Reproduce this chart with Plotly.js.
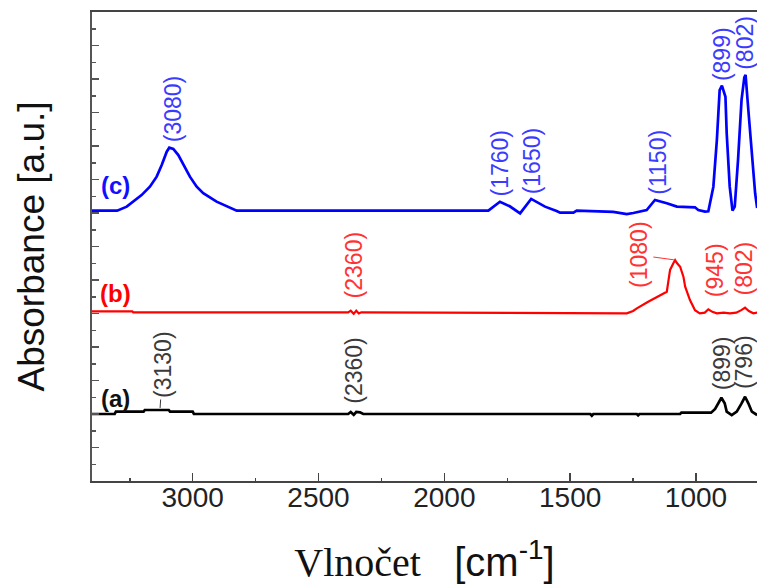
<!DOCTYPE html>
<html><head><meta charset="utf-8">
<script src="https://cdn.plot.ly/plotly-3.0.1.min.js"></script>
<style>html,body{margin:0;padding:0;background:#fff;overflow:hidden}</style>
</head><body><div id="chart" style="width:757px;height:585px"></div>
<script>
// ---- data (wavenumber in cm^-1, absorbance in a.u., curves offset as in the figure) ----
const seriesNames = ['(a)', '(b)', '(c)'];

const aX = [3400, 3310, 3305, 3195, 3190, 3140, 3130, 3095, 3090, 3000, 2995, 2382, 2372, 2360, 2350, 2335, 2322, 1420, 1414, 1408, 1235, 1230, 1225, 1063, 1058, 940, 924, 910, 899, 886, 878, 858, 838, 820, 805, 792, 778, 757];
const aY = [4.0, 4.0, 4.14, 4.14, 4.24, 4.24, 4.24, 4.24, 4.14, 4.14, 4.0, 4.0, 4.12, 3.95, 4.12, 4.1, 4.0, 4.0, 3.9, 4.0, 4.0, 3.92, 4.0, 4.0, 4.08, 4.08, 4.3, 4.7, 4.97, 4.64, 4.14, 3.94, 4.14, 4.6, 5.03, 4.64, 4.14, 3.94];

const bX = [3400, 3240, 3236, 2382, 2372, 2360, 2350, 2340, 2330, 1275, 1250, 1235, 1190, 1143, 1116, 1110, 1103, 1090, 1083, 1075, 1063, 1050, 1043, 1024, 1004, 985, 965, 951, 935, 917, 890, 865, 840, 820, 805, 790, 772, 757];
const bY = [10.13, 10.13, 10.07, 10.07, 10.17, 9.98, 10.17, 10.0, 10.07, 10.01, 10.15, 10.31, 10.7, 11.1, 11.3, 11.9, 12.6, 13.0, 13.19, 13.0, 12.79, 12.2, 11.6, 10.8, 10.2, 10.01, 10.05, 10.25, 10.1, 10.01, 10.05, 10.01, 10.05, 10.2, 10.35, 10.15, 10.01, 10.05];

const cX = [3400, 3300, 3262, 3236, 3203, 3170, 3143, 3123, 3103, 3093, 3077, 3057, 3037, 3011, 2984, 2958, 2905, 2825, 1825, 1779, 1740, 1699, 1655, 1600, 1554, 1540, 1487, 1474, 1329, 1275, 1249, 1196, 1163, 1143, 1116, 1076, 1024, 1004, 991, 964, 951, 931, 917, 906, 897, 883, 878, 866, 855, 846, 833, 819, 808, 803, 792, 778, 765, 757];
const cY = [16.14, 16.14, 16.38, 16.68, 17.07, 17.57, 18.17, 18.87, 19.66, 19.9, 19.82, 19.46, 18.87, 18.17, 17.57, 17.18, 16.68, 16.14, 16.14, 16.67, 16.4, 15.98, 16.84, 16.38, 16.12, 16.02, 16.02, 16.14, 16.07, 15.93, 16.0, 16.18, 16.78, 16.7, 16.58, 16.38, 16.34, 16.34, 16.18, 16.08, 16.1, 17.57, 20.36, 23.34, 23.6, 22.94, 20.76, 17.57, 16.14, 16.38, 19.16, 22.75, 24.1, 24.24, 22.15, 19.36, 17.18, 16.3];

// peak labels (cm^-1)
const aPeaks = [3130, 2360, 899, 796];
const bPeaks = [2360, 1080, 945, 802];
const cPeaks = [3080, 1760, 1650, 1150, 899, 802];

const xTickVals = [3000, 2500, 2000, 1500, 1000];
const xTickText = ['3000', '2500', '2000', '1500', '1000'];

// ---- styles ----
const SANS = 'Liberation Sans, Arial, sans-serif';
const lineCol = ['#000000', '#ff0000', '#0000ff'];
const textCol = ['#3a3a3a', '#ff3333', '#3b3bff'];
const lblCol = ['#111111', '#ff0000', '#1010ff'];

const traces = [[aX, aY], [bX, bY], [cX, cY]].map((d, i) => ({
  type: 'scatter', mode: 'lines', x: d[0], y: d[1], name: seriesNames[i],
  line: {color: lineCol[i], width: i === 1 ? 2.2 : 2.7}, showlegend: false, hoverinfo: 'skip'
}));

function localMax(xs, ys, x0, w) {
  let m = -Infinity;
  for (let k = 0; k < xs.length; k++) if (Math.abs(xs[k] - x0) <= w && ys[k] > m) m = ys[k];
  return m;
}

const annotations = [];
const peakSets = [[aX, aY, aPeaks, 6], [bX, bY, bPeaks, 10], [cX, cY, cPeaks, 3]];
const xshiftFor = {'2-1760': -5, '1-945': 5, '2-802': -1, '1-802': -2, '0-796': -4};
const arrowFor = {'1-1080': [-37, -5], '0-3130': [3, -45]};
peakSets.forEach((s, i) => {
  s[2].forEach(p => {
    const y = localMax(s[0], s[1], p, 20);
    const key = i + '-' + p;
    const base = {
      x: p, y: y, xref: 'x', yref: 'y', text: '(' + p + ')', textangle: -90,
      font: {family: SANS, size: 23, color: textCol[i]}
    };
    if (arrowFor[key]) {
      Object.assign(base, {showarrow: true, arrowhead: 0, arrowwidth: 1, arrowcolor: textCol[i],
        ax: arrowFor[key][0], ay: arrowFor[key][1], standoff: 2});
    } else {
      Object.assign(base, {showarrow: false, yanchor: 'bottom', yshift: s[3], xshift: xshiftFor[key] || 0});
    }
    annotations.push(base);
  });
});
// series labels at the left
[[aY, 16], [bY, 18], [cY, 25]].forEach((s, i) => {
  annotations.push({x: 3305, y: s[0][0], xref: 'x', yref: 'y', yshift: s[1], showarrow: false,
    text: '<b>' + seriesNames[i] + '</b>', font: {family: SANS, size: 24, color: lblCol[i]}});
});

const layout = {
  width: 757, height: 585,
  margin: {l: 92, r: 0, t: 12, b: 104},
  paper_bgcolor: '#fff', plot_bgcolor: '#fff',
  xaxis: {
    range: [3400, 757.6], showgrid: false, zeroline: false,
    showline: true, linecolor: '#444', linewidth: 2, mirror: true,
    ticks: 'inside', ticklen: 8, tickwidth: 1.5, tickcolor: '#444',
    tickvals: xTickVals, ticktext: xTickText, ticklabelstandoff: -10,
    tickfont: {family: SANS, size: 28, color: '#222'},
    minor: {dtick: 250, tick0: 0, ticks: 'inside', ticklen: 3, tickwidth: 1.5, tickcolor: '#444'},
    title: {text: '<span style="font-family:Liberation Serif">Vlnočet</span>\u00a0\u00a0 [cm<sup>-1</sup>]',
      font: {family: SANS, size: 40, color: '#111'}, standoff: 38}
  },
  yaxis: {
    range: [0, 28], showgrid: false, zeroline: false,
    showline: true, linecolor: '#555', linewidth: 2, mirror: false,
    ticks: 'inside', ticklen: 7, tickwidth: 1.5, tickcolor: '#555',
    dtick: 2, tick0: 0, showticklabels: false,
    minor: {dtick: 1, tick0: 0, ticks: 'inside', ticklen: 4, tickwidth: 1.5, tickcolor: '#555'},
    title: {text: 'Absorbance [a.u.]', font: {family: SANS, size: 37, color: '#111'}, standoff: 34}
  },
  annotations: annotations
};

Plotly.newPlot('chart', traces, layout, {displayModeBar: false, staticPlot: true});
</script>
</body></html>
